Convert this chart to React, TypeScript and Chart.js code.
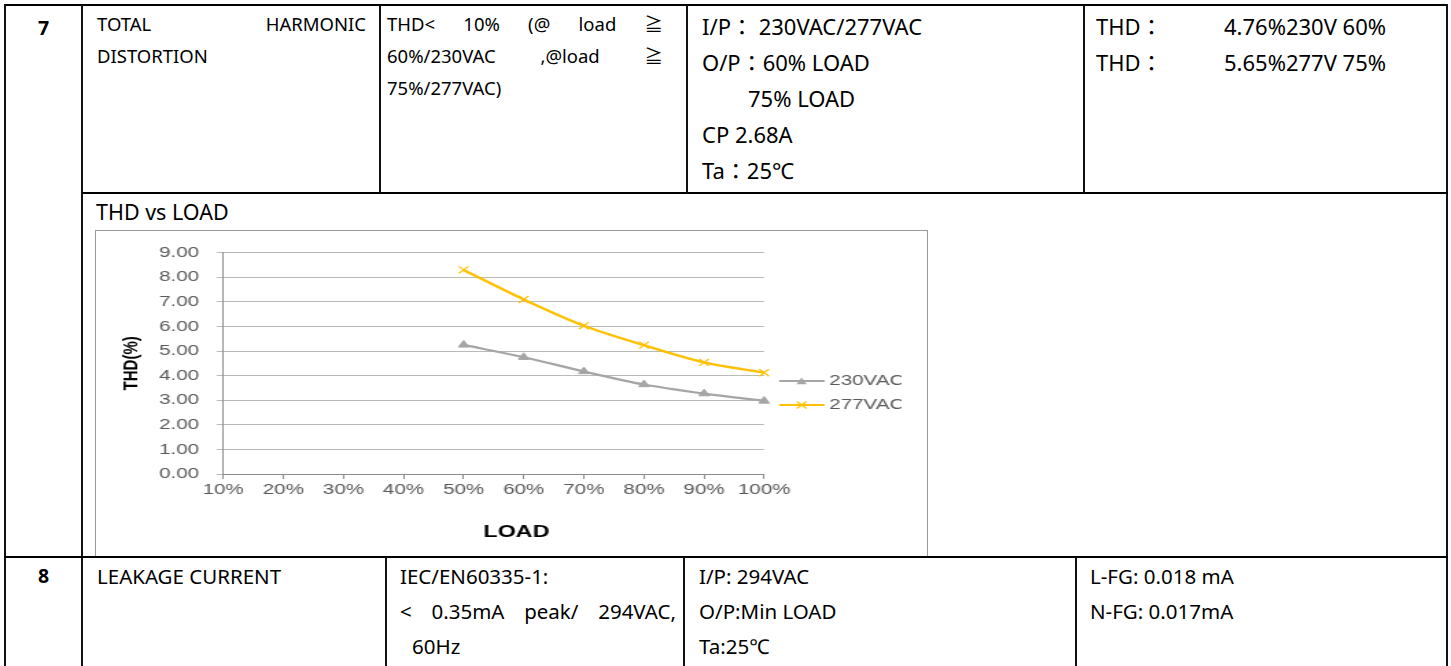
import React, { useEffect, useRef } from "react";
import { Chart, registerables } from "chart.js";

Chart.register(...registerables);

// ---------- data ----------
const loadLabels = ["10%", "20%", "30%", "40%", "50%", "60%", "70%", "80%", "90%", "100%"];
const thd230 = [null, null, null, null, 5.25, 4.75, 4.17, 3.64, 3.27, 2.97];
const thd277 = [null, null, null, null, 8.3, 7.1, 6.03, 5.24, 4.54, 4.12];
const seriesNames = ["230VAC", "277VAC"];
const seriesColors = ["#a5a5a5", "#ffc000"];
const seriesMarkers = ["triangle", "crossRot"];
const yMin = 0;
const yMax = 9;
const yStep = 1;

// chart picture is horizontally stretched in the reference
const SX = 1.37;
const BOX_W = 831;
const BOX_H = 326;

const TFONT = '"Noto Sans", "Noto Sans CJK TC", sans-serif';
const CFONT = '"Liberation Sans", Arial, sans-serif';

function makeIcon(color: string, marker: string) {
  const c = document.createElement("canvas");
  c.width = 39;
  c.height = 12;
  const ctx = c.getContext("2d")!;
  ctx.strokeStyle = color;
  ctx.fillStyle = color;
  ctx.lineWidth = 2.2;
  ctx.beginPath();
  ctx.moveTo(6, 6);
  ctx.lineTo(39, 6);
  ctx.stroke();
  const cx = 22.3;
  const cy = 6;
  if (marker === "triangle") {
    const r = 4.4;
    ctx.beginPath();
    for (let i = 0; i < 3; i++) {
      const a = (i * 2 * Math.PI) / 3;
      const px = cx + Math.sin(a) * r;
      const py = cy - Math.cos(a) * r + 1;
      if (i === 0) ctx.moveTo(px, py);
      else ctx.lineTo(px, py);
    }
    ctx.closePath();
    ctx.fill();
  } else {
    const r = 5 * Math.SQRT1_2;
    ctx.lineWidth = 1.2;
    ctx.beginPath();
    ctx.moveTo(cx - r, cy - r);
    ctx.lineTo(cx + r, cy + r);
    ctx.moveTo(cx + r, cy - r);
    ctx.lineTo(cx - r, cy + r);
    ctx.stroke();
  }
  return c;
}

function ThdChart() {
  const ref = useRef<HTMLCanvasElement | null>(null);
  useEffect(() => {
    if (!ref.current) return;
    const icons = seriesNames.map((_, i) => makeIcon(seriesColors[i], seriesMarkers[i]));
    const tickFont = { family: CFONT, size: 15 };
    const chart = new Chart(ref.current, {
      type: "line",
      data: {
        labels: loadLabels,
        datasets: [
          {
            label: seriesNames[0],
            data: thd230,
            borderColor: seriesColors[0],
            backgroundColor: seriesColors[0],
            borderWidth: 2.2,
            pointStyle: seriesMarkers[0] as any,
            pointRadius: 4.4,
            pointBackgroundColor: seriesColors[0],
            pointBorderColor: seriesColors[0],
            pointBorderWidth: 1,
            tension: 0.3,
          },
          {
            label: seriesNames[1],
            data: thd277,
            borderColor: seriesColors[1],
            backgroundColor: seriesColors[1],
            borderWidth: 2.4,
            pointStyle: seriesMarkers[1] as any,
            pointRadius: 5,
            pointBorderColor: seriesColors[1],
            pointBorderWidth: 1.2,
            tension: 0.3,
          },
        ],
      },
      options: {
        animation: false,
        responsive: true,
        maintainAspectRatio: false,
        layout: { padding: { top: 17, bottom: 19, left: 0, right: 19.7 } },
        plugins: {
          tooltip: { enabled: false },
          legend: {
            position: "right",
            maxWidth: 100,
            labels: {
              usePointStyle: true,
              pointStyleWidth: 30.9,
              padding: 9,
              color: "#595959",
              font: tickFont,
              generateLabels: (ch: any) => {
                const base = (Chart.defaults as any).plugins.legend.labels.generateLabels(ch);
                return base.map((l: any, i: number) => ({ ...l, pointStyle: icons[i] }));
              },
            },
          },
        },
        scales: {
          x: {
            type: "category",
            offset: false,
            grid: {
              display: true,
              drawOnChartArea: false,
              drawTicks: true,
              tickLength: 5,
              color: "#8c8c8c",
            },
            border: { display: true, color: "#8c8c8c" },
            ticks: { color: "#595959", font: tickFont, padding: 2, autoSkip: false, maxRotation: 0 },
            title: {
              display: true,
              text: "       LOAD",
              color: "#000",
              font: { family: CFONT, size: 17, weight: "bold", lineHeight: 1 },
              padding: { top: 0, bottom: -3 },
            },
            afterFit: (s: any) => {
              s.height = 64;
            },
          },
          y: {
            min: yMin,
            max: yMax,
            ticks: {
              stepSize: yStep,
              color: "#595959",
              font: tickFont,
              padding: 12.7,
              callback: (v: any) => Number(v).toFixed(2),
            },
            grid: { color: "#bababa", tickLength: 4.8 },
            border: { display: true, color: "#8c8c8c" },
            title: {
              display: true,
              text: "THD(%)",
              color: "#000",
              font: { family: CFONT, size: 15, weight: "bold", lineHeight: 1 },
              padding: { top: 18, bottom: 0 },
            },
            afterFit: (s: any) => {
              s.width = 92.7;
            },
          },
        },
      } as any,
    });
    return () => chart.destroy();
  }, []);
  return (
    <div
      style={{
        position: "absolute",
        left: 0,
        top: 0,
        width: BOX_W / SX,
        height: BOX_H,
        transform: `scaleX(${SX})`,
        transformOrigin: "0 0",
      }}
    >
      <canvas ref={ref} />
    </div>
  );
}

function HL({ x1, x2, y, t = 2 }: { x1: number; x2: number; y: number; t?: number }) {
  return <div style={{ position: "absolute", left: x1, top: y - t / 2, width: x2 - x1, height: t, background: "#000" }} />;
}
function VL({ x, y1, y2, t = 2 }: { x: number; y1: number; y2: number; t?: number }) {
  return <div style={{ position: "absolute", left: x - t / 2, top: y1, width: t, height: y2 - y1, background: "#111" }} />;
}

function T({
  x,
  cy,
  size,
  children,
  bold,
  w,
  justify,
  center,
}: {
  x: number;
  cy: number;
  size: number;
  children: React.ReactNode;
  bold?: boolean;
  w?: number;
  justify?: boolean;
  center?: boolean;
}) {
  const lh = Math.round(size * 1.4);
  const top = cy - lh / 2 - 0.03 * size;
  return (
    <div
      style={{
        position: "absolute",
        left: x,
        top,
        width: w,
        lineHeight: lh + "px",
        fontSize: size,
        fontWeight: bold ? 700 : 400,
        whiteSpace: justify ? "nowrap" : "pre",
        textAlign: justify ? "justify" : center ? "center" : "left",
        textAlignLast: justify ? "justify" : center ? "center" : "left",
        color: "#000",
      } as any}
    >
      {children}
    </div>
  );
}

export default function App() {
  const s2 = 18.5;
  const s4 = 22;
  const s8 = 20.5;
  return (
    <div
      style={{
        position: "absolute",
        left: 0,
        top: 0,
        width: 1451,
        height: 666,
        overflow: "hidden",
        background: "#fff",
        fontFamily: TFONT,
      }}
    >
      {/* row 7 */}
      <T x={5} w={77} cy={28} size={19.5} bold center>7</T>
      <T x={97} w={269} cy={24.7} size={s2} justify>TOTAL HARMONIC</T>
      <T x={97} cy={57} size={s2}>DISTORTION</T>

      <T x={387} w={276} cy={24.7} size={s2} justify>THD&lt;  10%  (@  load  ≧</T>
      <T x={387} w={276} cy={57} size={s2} justify>60%/230VAC  ,@load  ≧</T>
      <T x={387} cy={89} size={s2}>75%/277VAC)</T>

      <T x={702} cy={27.5} size={s4}>I/P： 230VAC/277VAC</T>
      <T x={702} cy={63.5} size={s4}>O/P：60% LOAD</T>
      <T x={748} cy={99.5} size={s4}>75% LOAD</T>
      <T x={702} cy={135.5} size={s4}>CP 2.68A</T>
      <T x={702} cy={171.5} size={s4}>Ta：25℃</T>

      <T x={1096} cy={27.5} size={s4}>THD：</T>
      <T x={1224} cy={27.5} size={s4}>4.76%230V 60%</T>
      <T x={1096} cy={63.5} size={s4}>THD：</T>
      <T x={1224} cy={63.5} size={s4}>5.65%277V 75%</T>

      {/* chart row */}
      <T x={96} cy={213} size={21.5}>THD vs LOAD</T>
      <div
        style={{
          position: "absolute",
          left: 95,
          top: 230,
          width: BOX_W + 2,
          height: BOX_H + 1,
          boxSizing: "border-box",
          borderTop: "1px solid #9a9a9a",
          borderLeft: "1px solid #9a9a9a",
          borderRight: "1px solid #9a9a9a",
          background: "#fff",
        }}
      >
        <div style={{ position: "relative", width: BOX_W, height: BOX_H }}>
          <ThdChart />
        </div>
      </div>

      {/* row 8 */}
      <T x={5} w={77} cy={576.5} size={19.5} bold center>8</T>
      <T x={97} cy={577} size={s8}>LEAKAGE CURRENT</T>
      <T x={400} cy={577} size={s8}>IEC/EN60335-1:</T>
      <T x={400} w={276} cy={612} size={s8} justify>&lt;  0.35mA  peak/  294VAC,</T>
      <T x={412} cy={647} size={s8}>60Hz</T>
      <T x={699} cy={577} size={s8}>I/P: 294VAC</T>
      <T x={699} cy={612} size={s8}>O/P:Min LOAD</T>
      <T x={699} cy={647} size={s8}>Ta:25℃</T>
      <T x={1090} cy={577} size={s8}>L-FG: 0.018 mA</T>
      <T x={1090} cy={612} size={s8}>N-FG: 0.017mA</T>

      {/* grid lines of the table */}
      <HL x1={4} x2={1448} y={5} t={2.5} />
      <VL x={5} y1={4} y2={666} t={2.5} />
      <VL x={1447} y1={4} y2={666} t={2.5} />
      <VL x={82} y1={4} y2={666} t={2.5} />
      <HL x1={82} x2={1448} y={193} t={2.5} />
      <VL x={380} y1={5} y2={193} />
      <VL x={687} y1={5} y2={193} />
      <VL x={1084} y1={5} y2={193} />
      <HL x1={4} x2={1448} y={557} t={2.5} />
      <VL x={386} y1={557} y2={666} />
      <VL x={684} y1={557} y2={666} />
      <VL x={1076} y1={557} y2={666} />
    </div>
  );
}
